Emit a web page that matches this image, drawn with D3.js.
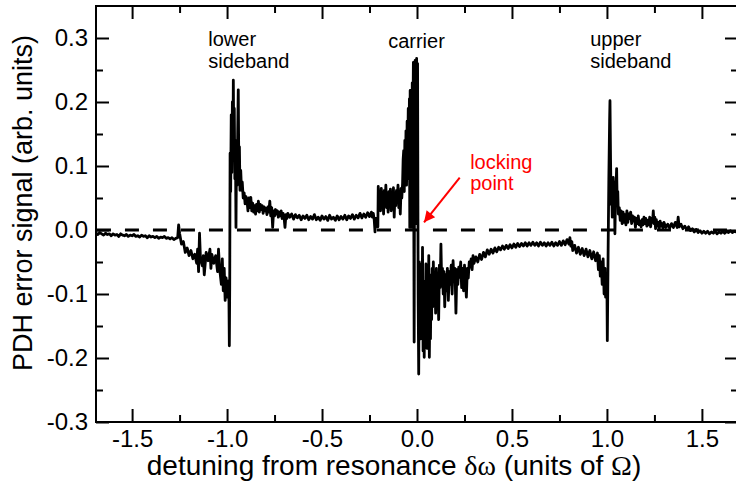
<!DOCTYPE html>
<html>
<head>
<meta charset="utf-8">
<script src="https://cdn.jsdelivr.net/npm/d3@7"></script>
<style>
  body { margin: 0; background: #fff; }
  svg { display: block; font-family: "Liberation Sans", Arial, sans-serif; }
</style>
</head>
<body>
<div id="chart"></div>
<script>
// PDH error signal trace as [detuning, signal] pairs

var baselineLeft = [
  [-1.69,-0.005],[-1.68,-0.007],[-1.67,-0.004],[-1.66,-0.006],[-1.65,-0.008],[-1.64,-0.005],
  [-1.63,-0.007],[-1.62,-0.006],[-1.61,-0.009],[-1.60,-0.006],[-1.59,-0.008],[-1.58,-0.007],
  [-1.57,-0.010],[-1.56,-0.006],[-1.55,-0.008],[-1.54,-0.009],[-1.53,-0.007],[-1.52,-0.010],
  [-1.51,-0.008],[-1.50,-0.009],[-1.49,-0.007],[-1.48,-0.010],[-1.47,-0.009],[-1.46,-0.011],
  [-1.45,-0.008],[-1.44,-0.010],[-1.43,-0.009],[-1.42,-0.012],[-1.41,-0.009],[-1.40,-0.011],
  [-1.39,-0.010],[-1.38,-0.012],[-1.37,-0.010],[-1.36,-0.013],[-1.35,-0.011],[-1.34,-0.012],
  [-1.33,-0.010],[-1.32,-0.013],[-1.31,-0.012],[-1.30,-0.014],[-1.29,-0.012],[-1.28,-0.015],
  [-1.27,-0.013],[-1.26,-0.012]
];

var lowerSideband = [
  [-1.255,0.008],[-1.25,-0.005],[-1.24,-0.022],[-1.23,-0.018],[-1.22,-0.035],[-1.21,-0.028],
  [-1.20,-0.040],[-1.19,-0.032],[-1.18,-0.045],[-1.17,-0.038],[-1.16,-0.052],[-1.155,-0.030],
  [-1.15,-0.065],[-1.145,-0.005],[-1.14,-0.045],[-1.13,-0.056],[-1.125,-0.040],[-1.12,-0.070],
  [-1.11,-0.035],[-1.10,-0.048],[-1.09,-0.030],[-1.085,-0.060],[-1.08,-0.038],[-1.07,-0.052],
  [-1.06,-0.040],[-1.05,-0.065],[-1.045,-0.030],[-1.04,-0.058],[-1.03,-0.085],[-1.025,-0.045],
  [-1.02,-0.095],[-1.015,-0.060],[-1.01,-0.110],[-1.005,-0.075],[-1.00,-0.105],[-0.995,-0.080],
  [-0.990,-0.110],[-0.988,-0.181],[-0.986,-0.090],[-0.984,0.120],[-0.981,0.060],[-0.978,0.180],
  [-0.975,0.090],[-0.972,0.200],[-0.969,0.120],[-0.967,0.234],[-0.965,0.150],[-0.962,0.190],
  [-0.959,0.080],[-0.956,0.140],[-0.953,0.004],[-0.950,0.130],[-0.947,0.070],[-0.944,0.150],
  [-0.941,0.219],[-0.938,0.095],[-0.935,0.130],[-0.932,0.062],[-0.928,0.093],[-0.924,0.062],
  [-0.920,0.075],[-0.915,0.050],[-0.910,0.058],[-0.905,0.041],[-0.900,0.052],[-0.895,0.046],
  [-0.890,0.030],[-0.885,0.050],[-0.880,0.035],[-0.875,0.051],[-0.870,0.030],[-0.865,0.042],
  [-0.860,0.028],[-0.855,0.038],[-0.850,0.025],[-0.845,0.040],[-0.840,0.030]
];

var midPlateau = [
  [-0.835,0.045],[-0.830,0.028],[-0.825,0.040],[-0.820,0.032],[-0.815,0.038],[-0.810,0.026],
  [-0.805,0.036],[-0.800,0.030],[-0.795,0.034],[-0.790,0.024],[-0.785,0.036],[-0.780,0.028],
  [-0.775,0.045],[-0.770,0.022],[-0.765,0.035],[-0.760,0.004],[-0.755,0.030],[-0.750,0.022],
  [-0.745,0.032],[-0.740,0.025],[-0.735,0.030],[-0.730,0.020],[-0.725,0.028],[-0.720,0.022],
  [-0.715,0.030],[-0.710,0.018],[-0.705,0.026],[-0.700,0.020],[-0.695,0.004],[-0.690,0.024],
  [-0.685,0.018],[-0.680,0.026],[-0.670,0.020],[-0.660,0.025],[-0.650,0.017],[-0.640,0.024],
  [-0.630,0.019],[-0.620,0.023],[-0.610,0.016],[-0.600,0.022],[-0.590,0.018],[-0.580,0.023],
  [-0.570,0.016],[-0.560,0.021],[-0.550,0.017],[-0.540,0.024],[-0.530,0.016],[-0.520,0.020],
  [-0.510,0.015],[-0.500,0.022],[-0.490,0.017],[-0.480,0.021],[-0.470,0.015],[-0.460,0.023],
  [-0.450,0.017],[-0.440,0.020],[-0.430,0.015],[-0.420,0.022],[-0.410,0.016],[-0.400,0.021],
  [-0.390,0.017],[-0.380,0.023],[-0.370,0.016],[-0.360,0.022],[-0.350,0.018],[-0.340,0.024],
  [-0.330,0.017],[-0.320,0.023],[-0.310,0.019],[-0.300,0.026],[-0.290,0.019],[-0.280,0.025],
  [-0.270,0.020],[-0.260,0.027],[-0.250,0.021],[-0.240,0.028],[-0.235,0.020],[-0.230,0.026],
  [-0.225,0.015],[-0.221,-0.003],[-0.217,0.018],[-0.210,0.018],[-0.206,0.005]
];

var carrier = [
  [-0.204,0.068],[-0.200,0.040],[-0.196,0.060],[-0.192,0.030],[-0.188,0.065],[-0.184,0.045],
  [-0.180,0.058],[-0.176,0.025],[-0.172,0.062],[-0.168,0.042],[-0.164,0.070],[-0.160,0.035],
  [-0.156,0.055],[-0.152,0.028],[-0.148,0.060],[-0.144,0.040],[-0.140,0.064],[-0.136,0.030],
  [-0.132,0.055],[-0.128,0.045],[-0.124,0.066],[-0.120,0.020],[-0.116,0.058],[-0.112,0.038],
  [-0.108,0.062],[-0.104,0.048],[-0.100,0.070],[-0.096,0.035],[-0.092,0.060],[-0.088,0.025],
  [-0.084,0.065],[-0.080,0.050],[-0.076,0.072],[-0.073,0.110],[-0.070,0.124],[-0.067,0.060],
  [-0.064,0.140],[-0.061,0.090],[-0.058,0.155],[-0.055,0.070],[-0.052,0.170],[-0.049,0.110],
  [-0.046,0.190],[-0.043,0.080],[-0.040,0.205],[-0.038,0.004],[-0.036,0.218],[-0.033,0.120],
  [-0.030,0.200],[-0.028,0.004],[-0.025,0.230],[-0.022,0.150],[-0.019,0.262],[-0.017,0.040],
  [-0.015,-0.175],[-0.013,0.100],[-0.010,0.265],[-0.007,0.180],[-0.004,0.010],[-0.002,0.268],
  [0.001,0.150],[0.003,0.260],[0.006,-0.100],[0.009,-0.225],[0.012,-0.050],[0.014,-0.160],
  [0.017,-0.060],[0.020,-0.170],[0.023,-0.053],[0.026,-0.157],[0.029,-0.027],[0.032,-0.189],
  [0.035,-0.100],[0.038,-0.199],[0.041,-0.080],[0.044,-0.160],[0.047,-0.053],[0.050,-0.140]
];

var recovery = [
  [0.053,-0.185],[0.056,-0.090],[0.059,-0.150],[0.062,-0.040],[0.065,-0.199],[0.068,-0.110],
  [0.071,-0.170],[0.074,-0.070],[0.077,-0.140],[0.080,-0.060],[0.083,-0.120],[0.086,-0.050],
  [0.090,-0.110],[0.094,-0.070],[0.098,-0.130],[0.102,-0.060],[0.106,-0.095],[0.110,-0.075],
  [0.114,-0.140],[0.118,-0.055],[0.122,-0.090],[0.126,-0.022],[0.130,-0.085],[0.134,-0.060],
  [0.138,-0.100],[0.142,-0.065],[0.146,-0.120],[0.150,-0.070],[0.155,-0.095],[0.160,-0.060],
  [0.165,-0.110],[0.170,-0.065],[0.175,-0.085],[0.180,-0.055],[0.185,-0.100],[0.190,-0.048],
  [0.195,-0.080],[0.200,-0.060],[0.205,-0.130],[0.210,-0.062],[0.215,-0.085],[0.220,-0.058],
  [0.225,-0.074],[0.230,-0.050],[0.235,-0.090],[0.240,-0.060],[0.245,-0.095],[0.250,-0.055],
  [0.255,-0.080],[0.260,-0.105],[0.265,-0.060],[0.270,-0.075],[0.275,-0.050],[0.280,-0.058],
  [0.285,-0.045],[0.290,-0.062],[0.295,-0.040],[0.300,-0.052],[0.310,-0.042],[0.320,-0.050],
  [0.330,-0.038],[0.340,-0.046],[0.350,-0.035],[0.360,-0.042],[0.370,-0.031],[0.380,-0.038],
  [0.390,-0.030],[0.400,-0.036],[0.410,-0.028],[0.420,-0.034],[0.430,-0.027],[0.440,-0.031],
  [0.450,-0.025],[0.460,-0.030],[0.470,-0.024],[0.480,-0.029],[0.490,-0.023],[0.500,-0.028],
  [0.510,-0.022],[0.520,-0.027],[0.530,-0.021],[0.540,-0.026],[0.550,-0.021],[0.560,-0.025],
  [0.570,-0.020],[0.580,-0.025],[0.590,-0.020],[0.600,-0.024],[0.610,-0.019],[0.620,-0.024],
  [0.630,-0.020],[0.640,-0.025],[0.650,-0.019],[0.660,-0.024],[0.670,-0.020],[0.680,-0.025],
  [0.690,-0.020],[0.700,-0.024],[0.710,-0.019],[0.720,-0.025],[0.730,-0.020],[0.740,-0.024],
  [0.750,-0.018],[0.760,-0.024],[0.770,-0.017],[0.780,-0.023],[0.790,-0.015],[0.800,-0.022],
  [0.805,-0.012],[0.810,-0.025],[0.815,-0.018],[0.820,-0.032],[0.830,-0.024],[0.840,-0.036],
  [0.850,-0.027],[0.860,-0.038],[0.870,-0.029],[0.880,-0.040],[0.890,-0.030],[0.900,-0.042],
  [0.910,-0.032],[0.920,-0.045],[0.930,-0.034],[0.940,-0.048],[0.950,-0.036],[0.955,-0.062],
  [0.960,-0.040],[0.965,-0.072],[0.970,-0.050],[0.975,-0.085],[0.980,-0.045],[0.985,-0.100],
  [0.990,-0.060],[0.993,-0.105],[1.000,-0.090]
];

var upperSideband = [
  [1.002,-0.173],[1.006,-0.040],[1.010,0.080],[1.014,0.170],[1.016,0.202],[1.019,0.110],
  [1.022,0.040],[1.025,0.070],[1.028,0.020],[1.031,0.060],[1.033,0.082],[1.036,0.030],
  [1.039,0.075],[1.042,-0.006],[1.045,0.050],[1.048,0.070],[1.051,0.096],[1.054,0.040],
  [1.057,0.060],[1.060,0.025],[1.065,0.035],[1.070,0.015],[1.075,0.030],[1.080,0.010],
  [1.085,0.028],[1.090,0.012],[1.095,0.024],[1.100,0.008],[1.105,0.030],[1.110,0.012],
  [1.115,0.025],[1.120,0.018],[1.125,0.028],[1.130,0.010],[1.135,0.022],[1.140,0.014],
  [1.145,0.020],[1.150,0.004],[1.155,0.018],[1.160,0.010],[1.165,0.022],[1.170,0.008],
  [1.175,0.014],[1.180,0.005],[1.185,0.016],[1.190,0.008],[1.195,0.020],[1.200,0.010],
  [1.205,0.018],[1.210,0.006],[1.215,0.015],[1.220,0.008],[1.225,0.020],[1.230,0.005],
  [1.235,0.018],[1.240,0.012],[1.244,0.030],[1.248,0.010],[1.252,0.020],[1.256,0.002],
  [1.260,0.016],[1.265,0.006],[1.270,0.012],[1.275,0.002],[1.280,0.014],[1.285,0.006],
  [1.290,0.010],[1.295,0.003],[1.300,0.012]
];

var baselineRight = [
  [1.310,0.004],[1.320,0.009],[1.330,0.003],[1.340,0.010],[1.350,0.004],[1.360,0.012],
  [1.370,0.004],[1.375,0.020],[1.380,0.005],[1.390,0.009],[1.400,0.002],[1.410,0.006],
  [1.420,0.001],[1.430,0.005],[1.440,-0.001],[1.450,0.002],[1.460,-0.003],[1.470,0.001],
  [1.480,-0.004],[1.490,-0.001],[1.500,-0.005],[1.510,-0.002],[1.520,-0.005],[1.530,-0.002],
  [1.540,-0.006],[1.550,-0.003],[1.560,-0.005],[1.570,-0.002],[1.580,-0.006],[1.590,-0.003],
  [1.600,-0.005],[1.610,-0.002],[1.620,-0.005],[1.630,-0.002],[1.640,-0.004],[1.650,-0.001],
  [1.660,-0.004],[1.670,-0.002],[1.680,-0.003],[1.690,-0.001]
];

// ticks
var xMajorTicks = [-1.5, -1.0, -0.5, 0.0, 0.5, 1.0, 1.5];
var xMinorTicks = [-1.25, -0.75, -0.25, 0.25, 0.75, 1.25];
var yMajorTicks = [-0.3, -0.2, -0.1, 0.0, 0.1, 0.2, 0.3];
var yMinorTicks = [-0.25, -0.15, -0.05, 0.05, 0.15, 0.25];

// annotations: text lines and where they sit in data units
var peakLabels = [
  { lines: ["lower", "sideband"], x: -1.099, y: 0.288 },
  { lines: ["carrier"], x: -0.152, y: 0.284 },
  { lines: ["upper", "sideband"], x: 0.912, y: 0.288 }
];
var lockLabel = { lines: ["locking", "point"], x: 0.280, y: 0.096 };
var lockArrow = { from: [0.225, 0.082], to: [0.037, 0.012] };

var width = 736, height = 494;
var plot = { left: 96, right: 738, top: 6, bottom: 422 };

var svg = d3.select("#chart")
  .append("svg")
  .attr("width", width)
  .attr("height", height);

var xScale = d3.scaleLinear()
  .domain([-1.69, 1.69])
  .range([plot.left, plot.right]);

var yScale = d3.scaleLinear()
  .domain([-0.3, 0.35])
  .range([plot.bottom, plot.top]);

var fmt = function(d) { return d.toFixed(1); };

// clip so the trace stays inside the frame
svg.append("defs").append("clipPath")
  .attr("id", "clip")
  .append("rect")
  .attr("x", plot.left)
  .attr("y", plot.top)
  .attr("width", plot.right - plot.left)
  .attr("height", plot.bottom - plot.top);

// dashed zero line
svg.append("line")
  .attr("x1", xScale(-1.685))
  .attr("x2", xScale(1.69))
  .attr("y1", yScale(0))
  .attr("y2", yScale(0))
  .attr("stroke", "#000")
  .attr("stroke-width", 3)
  .attr("stroke-dasharray", "14,14");

var trace = baselineLeft.concat(lowerSideband, midPlateau, carrier, recovery, upperSideband, baselineRight);

var line = d3.line()
  .x(function(d) { return xScale(d[0]); })
  .y(function(d) { return yScale(d[1]); });

svg.append("path")
  .datum(trace)
  .attr("clip-path", "url(#clip)")
  .attr("fill", "none")
  .attr("stroke", "#000")
  .attr("stroke-width", 2.8)
  .attr("stroke-linejoin", "round")
  .attr("d", line);

// axes: ticks point inward on all four sides
function styleAxis(g, size) {
  g.select(".domain").remove();
  g.selectAll(".tick line").attr("stroke", "#000").attr("stroke-width", 2);
  g.selectAll(".tick text").attr("fill", "#000").style("font-size", size + "px");
}

svg.append("g")
  .attr("transform", "translate(0," + plot.bottom + ")")
  .call(d3.axisBottom(xScale).tickValues(xMajorTicks).tickSize(-13).tickPadding(8).tickFormat(fmt))
  .call(styleAxis, 24);
svg.append("g")
  .attr("transform", "translate(0," + plot.bottom + ")")
  .call(d3.axisBottom(xScale).tickValues(xMinorTicks).tickSize(-7).tickFormat(""))
  .call(styleAxis, 24);
svg.append("g")
  .attr("transform", "translate(0," + plot.top + ")")
  .call(d3.axisTop(xScale).tickValues(xMajorTicks).tickSize(-13).tickFormat(""))
  .call(styleAxis, 24);
svg.append("g")
  .attr("transform", "translate(0," + plot.top + ")")
  .call(d3.axisTop(xScale).tickValues(xMinorTicks).tickSize(-7).tickFormat(""))
  .call(styleAxis, 24);

svg.append("g")
  .attr("transform", "translate(" + plot.left + ",0)")
  .call(d3.axisLeft(yScale).tickValues(yMajorTicks).tickSize(-13).tickPadding(8).tickFormat(fmt))
  .call(styleAxis, 24);
svg.append("g")
  .attr("transform", "translate(" + plot.left + ",0)")
  .call(d3.axisLeft(yScale).tickValues(yMinorTicks).tickSize(-7).tickFormat(""))
  .call(styleAxis, 24);
svg.append("g")
  .attr("transform", "translate(" + plot.right + ",0)")
  .call(d3.axisRight(yScale).tickValues(yMajorTicks).tickSize(-13).tickFormat(""))
  .call(styleAxis, 24);
svg.append("g")
  .attr("transform", "translate(" + plot.right + ",0)")
  .call(d3.axisRight(yScale).tickValues(yMinorTicks).tickSize(-7).tickFormat(""))
  .call(styleAxis, 24);

// frame
svg.append("rect")
  .attr("x", plot.left)
  .attr("y", plot.top)
  .attr("width", plot.right - plot.left)
  .attr("height", plot.bottom - plot.top)
  .attr("fill", "none")
  .attr("stroke", "#000")
  .attr("stroke-width", 2);

// axis titles
var xTitle = svg.append("text")
  .attr("x", 394)
  .attr("y", 475)
  .attr("text-anchor", "middle")
  .style("font-size", "28px");
xTitle.append("tspan").text("detuning from resonance ");
xTitle.append("tspan").style("font-family", "'Liberation Serif', serif").text("\u03b4\u03c9");
xTitle.append("tspan").text(" (units of ");
xTitle.append("tspan").style("font-family", "'Liberation Serif', serif").text("\u03a9");
xTitle.append("tspan").text(")");

svg.append("text")
  .attr("transform", "translate(32,203) rotate(-90)")
  .attr("text-anchor", "middle")
  .style("font-size", "27px")
  .text("PDH error signal (arb. units)");

// peak labels
peakLabels.forEach(function(lab) {
  var t = svg.append("text")
    .attr("x", xScale(lab.x))
    .attr("y", yScale(lab.y))
    .style("font-size", "20px");
  lab.lines.forEach(function(s, i) {
    t.append("tspan")
      .attr("x", xScale(lab.x))
      .attr("dy", i === 0 ? 0 : 22)
      .text(s);
  });
});

// locking point label + arrow
var lt = svg.append("text")
  .attr("x", xScale(lockLabel.x))
  .attr("y", yScale(lockLabel.y))
  .attr("fill", "#ff0000")
  .style("font-size", "20px");
lockLabel.lines.forEach(function(s, i) {
  lt.append("tspan")
    .attr("x", xScale(lockLabel.x))
    .attr("dy", i === 0 ? 0 : 21)
    .text(s);
});

svg.append("defs").append("marker")
  .attr("id", "arrowhead")
  .attr("viewBox", "0 0 10 10")
  .attr("refX", 10)
  .attr("refY", 5)
  .attr("markerWidth", 7)
  .attr("markerHeight", 5.5)
  .attr("markerUnits", "strokeWidth")
  .attr("orient", "auto")
  .append("path")
  .attr("d", "M0,0 L10,5 L0,10 Z")
  .attr("fill", "#ff0000");

svg.append("line")
  .attr("x1", xScale(lockArrow.from[0]))
  .attr("y1", yScale(lockArrow.from[1]))
  .attr("x2", xScale(lockArrow.to[0]))
  .attr("y2", yScale(lockArrow.to[1]))
  .attr("stroke", "#ff0000")
  .attr("stroke-width", 2)
  .attr("marker-end", "url(#arrowhead)");
</script>
</body>
</html>
